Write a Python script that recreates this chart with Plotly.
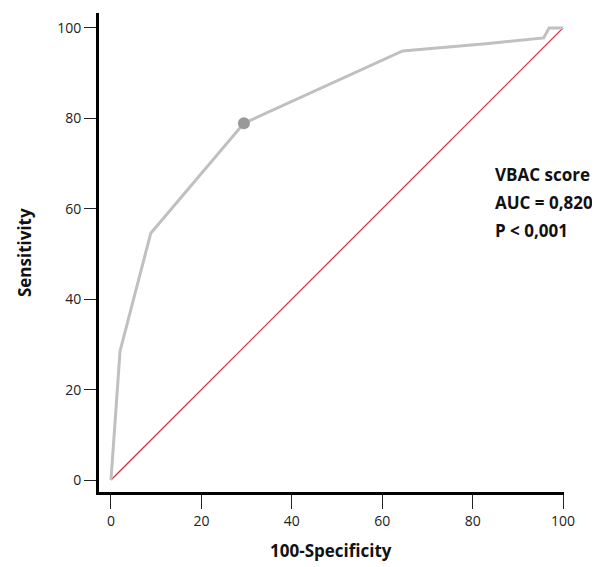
import plotly.graph_objects as go

fpr = [0, 2.0, 8.8, 29.4, 64.5, 82.9, 95.7, 96.9, 100]
tpr = [0, 28.5, 54.6, 78.9, 94.9, 96.5, 97.8, 100, 100]
cut_x = [29.4]
cut_y = [78.9]
diag = [0, 100]
ticks = [0, 20, 40, 60, 80, 100]
notes = ["VBAC score", "AUC = 0,820", "P < 0,001"]

fig = go.Figure()
fig.add_trace(go.Scatter(x=diag, y=diag, mode="lines",
                         line=dict(color="#e0203a", width=1.2), hoverinfo="skip"))
fig.add_trace(go.Scatter(x=fpr, y=tpr, mode="lines",
                         line=dict(color="#c0c0c0", width=3)))
fig.add_trace(go.Scatter(x=cut_x, y=cut_y, mode="markers",
                         marker=dict(color="#999999", size=12)))

for i, t in enumerate(notes):
    fig.add_annotation(x=84.5, y=67.5 - i * 6.2, xref="x", yref="y", text="<b>%s</b>" % t,
                       showarrow=False, xanchor="left", yanchor="middle",
                       font=dict(family="Open Sans", size=17, color="#111111"))

fig.add_annotation(x=-0.159, y=0.499, xref="paper", yref="paper", text="<b>Sensitivity</b>",
                   showarrow=False, textangle=-90, xanchor="center", yanchor="middle",
                   font=dict(family="Open Sans", size=17, color="#111111"))
fig.add_annotation(x=0.499, y=-0.123, xref="paper", yref="paper", text="<b>100-Specificity</b>",
                   showarrow=False, xanchor="center", yanchor="middle",
                   font=dict(family="Open Sans", size=17, color="#111111"))

axis_common = dict(showgrid=False, zeroline=False, showline=True, linecolor="black",
                   linewidth=3, ticks="outside", tickcolor="#222222", tickwidth=1,
                   automargin=False,
                   tickvals=ticks, tickfont=dict(family="Open Sans", size=14, color="#222222"))

fig.update_layout(
    width=592, height=559, showlegend=False,
    paper_bgcolor="white", plot_bgcolor="white",
    margin=dict(l=91, r=36, t=5, b=75),
    font=dict(family="Open Sans"),
    xaxis=dict(range=[-2.65, 100.2], ticklen=14, **axis_common),
    yaxis=dict(range=[-2.65, 103.3], ticklen=12, ticksuffix="\u00a0\u00a0", **axis_common),
)

fig.write_html("out.html")
